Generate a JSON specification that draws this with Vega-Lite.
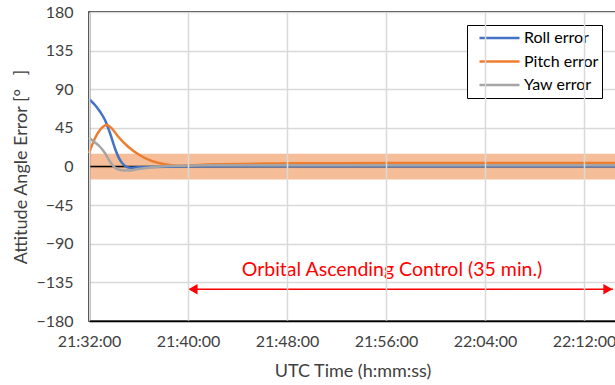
{
  "$schema": "https://vega.github.io/schema/vega-lite/v6.json",
  "width": 527,
  "height": 309,
  "autosize": {"type": "none"},
  "padding": {"left": 89, "top": 12, "right": 0, "bottom": 64},
  "config": {
    "font": "Lato",
    "view": {"stroke": "black", "strokeWidth": 1.5},
    "axis": {"labelFont": "Lato", "titleFont": "Lato", "labelColor": "#404040", "titleColor": "#404040", "labelFontSize": 16, "titleFontSize": 18, "titleFontWeight": "normal", "gridColor": "#D9D9D9", "gridWidth": 1.5, "ticks": false, "domainColor": "black", "domainWidth": 1.5, "labelFlush": false, "labelOverlap": false}
  },
  "datasets": {
    "series": [
      {"t": "2021-01-01T21:32:00", "s": "Roll error", "v": 78.7},
      {"t": "2021-01-01T21:32:29", "s": "Roll error", "v": 71.7},
      {"t": "2021-01-01T21:32:53", "s": "Roll error", "v": 64},
      {"t": "2021-01-01T21:33:18", "s": "Roll error", "v": 54},
      {"t": "2021-01-01T21:33:42", "s": "Roll error", "v": 38.7},
      {"t": "2021-01-01T21:34:06", "s": "Roll error", "v": 21},
      {"t": "2021-01-01T21:34:30", "s": "Roll error", "v": 7.6},
      {"t": "2021-01-01T21:34:55", "s": "Roll error", "v": 0.5},
      {"t": "2021-01-01T21:35:19", "s": "Roll error", "v": -1.4},
      {"t": "2021-01-01T21:35:59", "s": "Roll error", "v": -1},
      {"t": "2021-01-01T21:37:04", "s": "Roll error", "v": -0.5},
      {"t": "2021-01-01T21:39:11", "s": "Roll error", "v": 0},
      {"t": "2021-01-01T21:47:00", "s": "Roll error", "v": 0.3},
      {"t": "2021-01-01T21:57:00", "s": "Roll error", "v": 0.3},
      {"t": "2021-01-01T22:07:00", "s": "Roll error", "v": 0.3},
      {"t": "2021-01-01T22:14:35", "s": "Roll error", "v": 0.3},
      {"t": "2021-01-01T21:32:00", "s": "Pitch error", "v": 15.4},
      {"t": "2021-01-01T21:32:29", "s": "Pitch error", "v": 33},
      {"t": "2021-01-01T21:32:53", "s": "Pitch error", "v": 42.5},
      {"t": "2021-01-01T21:33:26", "s": "Pitch error", "v": 48.4},
      {"t": "2021-01-01T21:33:50", "s": "Pitch error", "v": 44.5},
      {"t": "2021-01-01T21:34:22", "s": "Pitch error", "v": 34.7},
      {"t": "2021-01-01T21:35:10", "s": "Pitch error", "v": 23},
      {"t": "2021-01-01T21:35:59", "s": "Pitch error", "v": 14.2},
      {"t": "2021-01-01T21:37:04", "s": "Pitch error", "v": 6.4},
      {"t": "2021-01-01T21:38:08", "s": "Pitch error", "v": 2.5},
      {"t": "2021-01-01T21:39:11", "s": "Pitch error", "v": 1},
      {"t": "2021-01-01T21:42:00", "s": "Pitch error", "v": 2.5},
      {"t": "2021-01-01T21:47:00", "s": "Pitch error", "v": 3.5},
      {"t": "2021-01-01T21:52:00", "s": "Pitch error", "v": 3.8},
      {"t": "2021-01-01T22:02:00", "s": "Pitch error", "v": 4},
      {"t": "2021-01-01T22:14:35", "s": "Pitch error", "v": 4},
      {"t": "2021-01-01T21:32:00", "s": "Yaw error", "v": 33.6},
      {"t": "2021-01-01T21:32:29", "s": "Yaw error", "v": 28},
      {"t": "2021-01-01T21:32:53", "s": "Yaw error", "v": 23},
      {"t": "2021-01-01T21:33:18", "s": "Yaw error", "v": 15.4},
      {"t": "2021-01-01T21:33:42", "s": "Yaw error", "v": 5.6},
      {"t": "2021-01-01T21:34:06", "s": "Yaw error", "v": -1.4},
      {"t": "2021-01-01T21:34:30", "s": "Yaw error", "v": -4},
      {"t": "2021-01-01T21:35:10", "s": "Yaw error", "v": -4.8},
      {"t": "2021-01-01T21:35:59", "s": "Yaw error", "v": -3},
      {"t": "2021-01-01T21:37:04", "s": "Yaw error", "v": -1},
      {"t": "2021-01-01T21:38:22", "s": "Yaw error", "v": 0.5},
      {"t": "2021-01-01T21:42:00", "s": "Yaw error", "v": 1.5},
      {"t": "2021-01-01T21:52:00", "s": "Yaw error", "v": 1.5},
      {"t": "2021-01-01T22:02:00", "s": "Yaw error", "v": 1.5},
      {"t": "2021-01-01T22:14:35", "s": "Yaw error", "v": 1.5}
    ],
    "band": [{"v": -15, "v2": 15}],
    "zero": [{"v": 0}],
    "arrow": [{"t": "2021-01-01T21:40:00", "t2": "2021-01-01T22:14:20", "v": -143}],
    "label": [{"t": "2021-01-01T21:56:29", "v": -120.5, "text": "Orbital Ascending Control (35 min.)"}]
  },
  "encoding": {
    "x": {
      "field": "t", "type": "temporal",
      "scale": {"domain": [{"year": 2021, "month": 1, "date": 1, "hours": 21, "minutes": 32}, {"year": 2021, "month": 1, "date": 1, "hours": 22, "minutes": 14, "seconds": 35}]},
      "axis": {
        "title": "UTC Time (h:mm:ss)", "format": "%H:%M:%S", "labelPadding": 12, "titlePadding": 13, "zindex": 1,
        "values": [
          {"year": 2021, "month": 1, "date": 1, "hours": 21, "minutes": 32},
          {"year": 2021, "month": 1, "date": 1, "hours": 21, "minutes": 40},
          {"year": 2021, "month": 1, "date": 1, "hours": 21, "minutes": 48},
          {"year": 2021, "month": 1, "date": 1, "hours": 21, "minutes": 56},
          {"year": 2021, "month": 1, "date": 1, "hours": 22, "minutes": 4},
          {"year": 2021, "month": 1, "date": 1, "hours": 22, "minutes": 12}
        ]
      }
    },
    "y": {
      "field": "v", "type": "quantitative",
      "scale": {"domain": [-180, 180]},
      "axis": {"title": "Attitude Angle Error [°\u00a0\u00a0\u00a0]", "values": [-180, -135, -90, -45, 0, 45, 90, 135, 180], "labelPadding": 16, "titlePadding": 5}
    }
  },
  "layer": [
    {
      "data": {"name": "band"},
      "mark": {"type": "rect", "color": "#ED7D31", "opacity": 0.5},
      "encoding": {"x": null, "y2": {"field": "v2"}}
    },
    {
      "data": {"name": "zero"},
      "mark": {"type": "rule", "color": "black", "strokeWidth": 1.5},
      "encoding": {"x": null}
    },
    {
      "data": {"name": "series"},
      "mark": {"type": "line", "strokeWidth": 2.5, "interpolate": "monotone"},
      "encoding": {
        "color": {
          "field": "s", "type": "nominal",
          "scale": {"domain": ["Roll error", "Pitch error", "Yaw error"], "range": ["#4472C4", "#ED7D31", "#A5A5A5"]},
          "legend": {"title": null, "orient": "none", "legendX": 378, "legendY": 13, "symbolType": "stroke", "symbolSize": 1600, "symbolStrokeWidth": 2.5, "clipHeight": 20, "rowPadding": 3.5, "labelFontSize": 16, "labelFont": "Lato", "labelColor": "black", "labelOffset": 3, "strokeColor": "black", "fillColor": "white", "padding": 3, "symbolOffset": 8}
        }
      }
    },
    {
      "data": {"name": "arrow"},
      "mark": {"type": "rule", "color": "#FF0000", "strokeWidth": 1.5},
      "encoding": {"x2": {"field": "t2"}}
    },
    {
      "data": {"name": "arrow"},
      "mark": {"type": "point", "shape": "triangle-left", "filled": true, "color": "#FF0000", "opacity": 1, "size": 110, "xOffset": 5}
    },
    {
      "data": {"name": "arrow"},
      "mark": {"type": "point", "shape": "triangle-right", "filled": true, "color": "#FF0000", "opacity": 1, "size": 110, "xOffset": -5},
      "encoding": {"x": {"field": "t2", "type": "temporal"}}
    },
    {
      "data": {"name": "label"},
      "mark": {"type": "text", "color": "#FF0000", "fontSize": 19.5, "font": "Lato"},
      "encoding": {"text": {"field": "text"}}
    }
  ]
}
